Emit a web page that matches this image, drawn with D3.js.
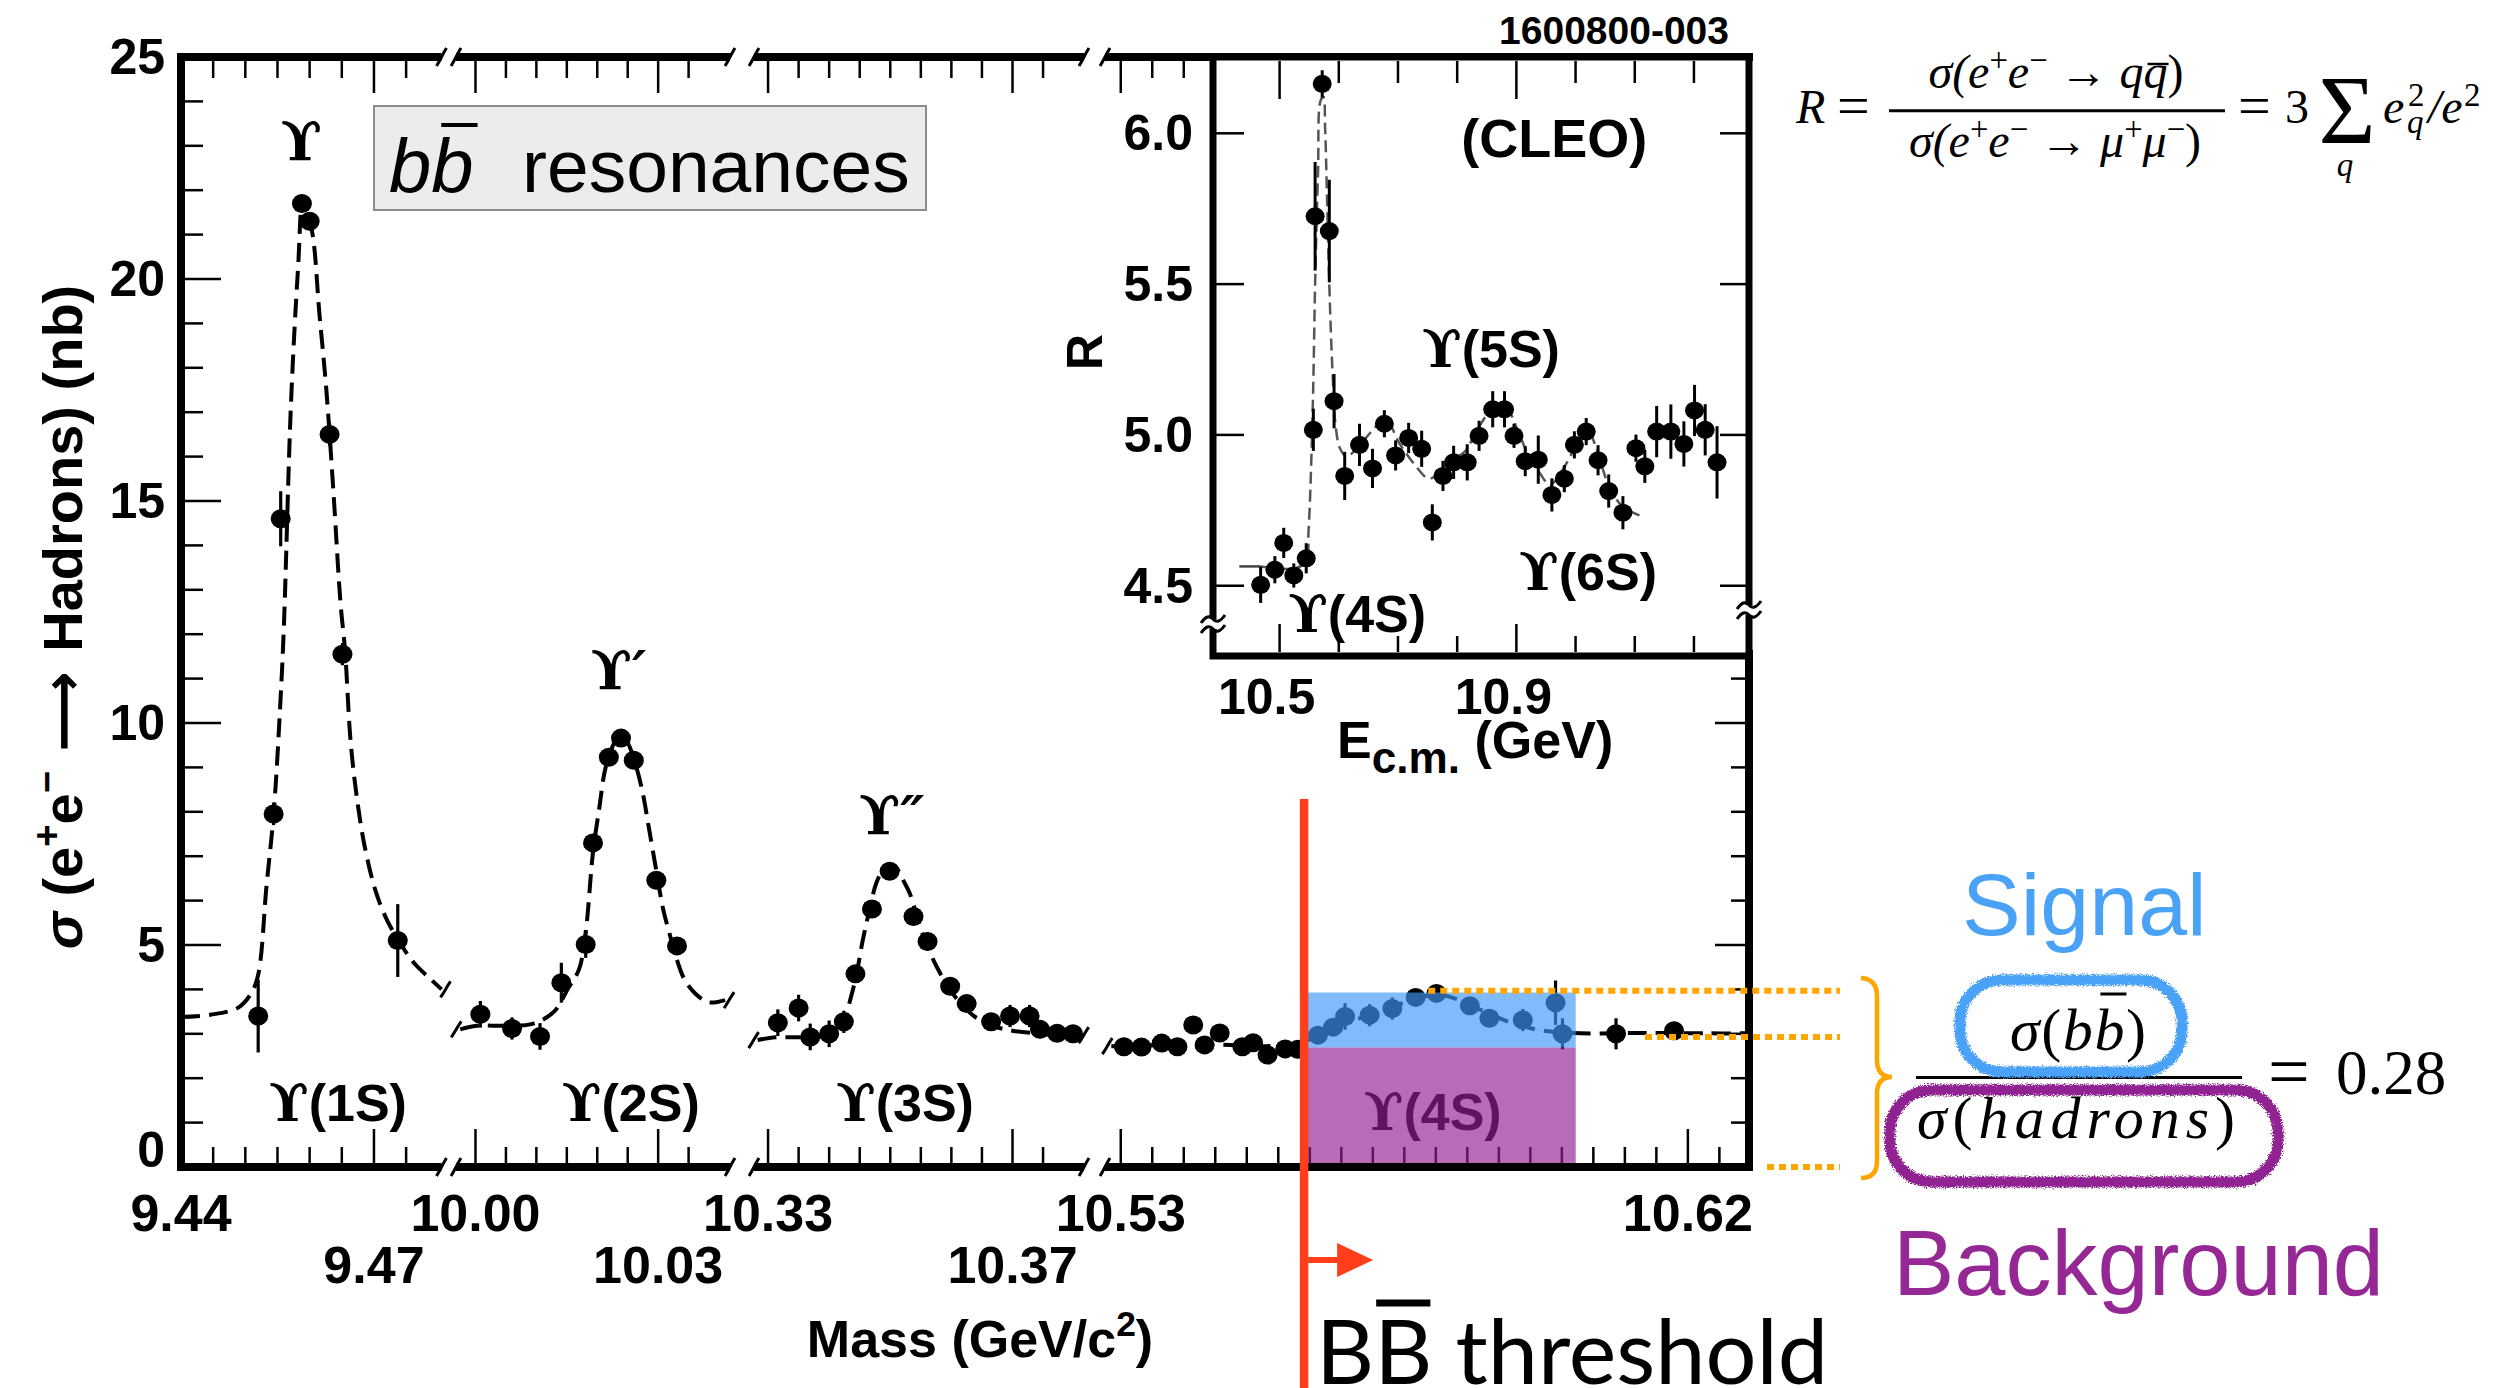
<!DOCTYPE html>
<html>
<head>
<meta charset="utf-8">
<script src="https://cdn.jsdelivr.net/npm/d3@7"></script>
<style>
body { margin: 0; background: #fff; }
svg { display: block; }
</style>
</head>
<body>
<script>
// ---------------- data ----------------
// main scan: sigma(e+e- -> hadrons) in nb versus mass in GeV
var massPts = [9.4520, 9.4544, 9.4555, 9.4588, 9.4600, 9.4631, 9.4651, 9.4737,
  10.0008, 10.0060, 10.0106, 10.0141, 10.0181, 10.0193, 10.0219, 10.0239, 10.0260, 10.0297, 10.0331,
  10.3316, 10.3350, 10.3369, 10.3400, 10.3424, 10.3443, 10.3470, 10.3499, 10.3538, 10.3561, 10.3598,
  10.3625, 10.3665, 10.3696, 10.3728, 10.3745, 10.3773, 10.3799,
  10.5305, 10.5333, 10.5365, 10.5390, 10.5415, 10.5433, 10.5457, 10.5493, 10.5510, 10.5533, 10.5561, 10.5581,
  10.5613, 10.5637, 10.5656, 10.5695, 10.5731, 10.5768, 10.5801, 10.5854, 10.5885, 10.5938, 10.5990,
  10.6001, 10.6086, 10.6178];
var sigmaPts = [3.40, 7.95, 14.6, 21.7, 21.3, 16.5, 11.55, 5.10,
  3.44, 3.12, 2.94, 4.15, 5.01, 7.30, 9.23, 9.66, 9.16, 6.46, 4.98,
  3.25, 3.58, 2.93, 3.00, 3.27, 4.35, 5.81, 6.66, 5.64, 5.08, 4.07,
  3.68, 3.27, 3.40, 3.40, 3.10, 3.01, 3.00,
  2.71, 2.70, 2.79, 2.71, 3.20, 2.75, 3.02, 2.71, 2.80, 2.52, 2.66, 2.65,
  2.97, 3.15, 3.39, 3.42, 3.57, 3.82, 3.91, 3.63, 3.35, 3.31, 3.70,
  3.00, 3.00, 3.07];
var sigmaErr = [0.82, 0.25, 0.62, 0.2, 0.2, 0.25, 0.25, 0.82,
  0.3, 0.25, 0.3, 0.45, 0.3, 0.2, 0.2, 0.15, 0.15, 0.2, 0.2,
  0.3, 0.3, 0.3, 0.3, 0.25, 0.2, 0.2, 0.15, 0.2, 0.2, 0.2,
  0.15, 0.2, 0.25, 0.25, 0.2, 0.15, 0.2,
  0.2, 0.15, 0.15, 0.15, 0.15, 0.15, 0.2, 0.15, 0.15, 0.2, 0.2, 0.2,
  0.2, 0.2, 0.3, 0.25, 0.25, 0.15, 0.15, 0.15, 0.2, 0.25, 0.5,
  0.35, 0.35, 0.2];

// dashed fits, one per axis segment [mass, sigma]
var fit1S = [[9.440,3.38],[9.4446,3.43],[9.4489,3.59],[9.4509,3.91],[9.4520,4.33],[9.4533,6.34],[9.4544,7.95],
  [9.4555,10.6],[9.4560,12.2],[9.4571,17.2],[9.4582,20.25],[9.4590,21.8],[9.4604,21.05],[9.4615,19.25],
  [9.4626,17.5],[9.4637,15.2],[9.4648,12.7],[9.4655,11.64],[9.4664,9.53],[9.4675,8.15],[9.4686,7.19],
  [9.4702,6.24],[9.4719,5.6],[9.4737,5.13],[9.4762,4.6],[9.4789,4.22],[9.4812,4.0]];
var fit2S = [[9.9975,3.10],[10.0002,3.18],[10.0049,3.18],[10.0095,3.23],[10.0129,3.50],[10.0152,4.02],
  [10.0170,4.45],[10.0181,5.29],[10.0193,7.09],[10.0204,8.15],[10.0212,8.89],[10.0222,9.37],[10.0233,9.63],
  [10.0248,9.58],[10.0262,9.10],[10.0274,8.47],[10.0285,7.62],[10.0297,6.67],[10.0308,5.82],[10.0320,5.19],
  [10.0331,4.66],[10.0343,4.23],[10.0360,3.92],[10.0383,3.71],[10.0410,3.76]];
var fit3S = [[10.3283,2.86],[10.3312,2.92],[10.3349,2.92],[10.3378,2.92],[10.3408,3.01],[10.3422,3.16],
  [10.3433,3.69],[10.3444,4.29],[10.3455,5.11],[10.3466,5.79],[10.3477,6.39],[10.3488,6.69],[10.3499,6.80],
  [10.3510,6.73],[10.3521,6.46],[10.3532,6.16],[10.3547,5.49],[10.3561,4.96],[10.3576,4.51],[10.3598,3.99],
  [10.3620,3.61],[10.3642,3.35],[10.3671,3.16],[10.3700,3.07],[10.3737,3.01],[10.3773,2.97],[10.3810,2.97]];
var fit4S = [[10.5285,2.72],[10.5350,2.74],[10.5450,2.76],[10.5530,2.72],[10.5580,2.78],[10.5620,3.00],
  [10.5660,3.25],[10.5710,3.50],[10.5760,3.75],[10.5800,3.88],[10.5840,3.75],[10.5880,3.48],[10.5920,3.25],
  [10.5970,3.07],[10.6030,3.01],[10.6130,3.02],[10.6230,3.01],[10.6295,3.01]];

// inset (CLEO): R versus E_cm in GeV
var cleoE = [10.468, 10.492, 10.507, 10.524, 10.545, 10.557, 10.560, 10.572, 10.584, 10.592,
  10.610, 10.635, 10.657, 10.677, 10.696, 10.718, 10.740, 10.758, 10.776, 10.794,
  10.817, 10.837, 10.860, 10.880, 10.896, 10.915, 10.937, 10.960, 10.981, 10.998,
  11.018, 11.038, 11.056, 11.080, 11.102, 11.117, 11.137, 11.161, 11.183, 11.201, 11.219, 11.239];
var cleoR = [4.503, 4.553, 4.642, 4.534, 4.591, 5.017, 5.725, 6.164, 5.676, 5.112,
  4.864, 4.967, 4.889, 5.037, 4.932, 4.990, 4.954, 4.710, 4.864, 4.909,
  4.909, 4.997, 5.085, 5.085, 4.997, 4.913, 4.918, 4.801, 4.855, 4.967,
  5.011, 4.916, 4.814, 4.742, 4.956, 4.896, 5.011, 5.011, 4.970, 5.081, 5.017, 4.909];
var cleoErr = [0.06, 0.045, 0.05, 0.04, 0.05, 0.07, 0.18, 0.045, 0.17, 0.09,
  0.08, 0.07, 0.065, 0.045, 0.05, 0.05, 0.06, 0.06, 0.05, 0.055,
  0.06, 0.05, 0.06, 0.06, 0.04, 0.05, 0.08, 0.055, 0.045, 0.045,
  0.045, 0.05, 0.055, 0.055, 0.045, 0.055, 0.085, 0.09, 0.075, 0.085, 0.085, 0.12];
var cleoFit = [[10.468,4.564],[10.522,4.557],[10.544,4.578],[10.549,4.686],[10.556,5.092],[10.560,5.498],
  [10.565,5.877],[10.569,6.107],[10.574,6.121],[10.577,6.012],[10.580,5.795],[10.584,5.498],[10.589,5.227],
  [10.595,5.024],[10.602,4.956],[10.613,4.929],[10.631,4.956],[10.655,5.011],[10.679,5.051],[10.703,4.970],
  [10.728,4.902],[10.752,4.855],[10.770,4.875],[10.788,4.916],[10.812,4.943],[10.836,5.024],[10.860,5.085],
  [10.884,5.085],[10.903,5.011],[10.921,4.929],[10.939,4.875],[10.957,4.834],[10.975,4.875],[10.999,4.956],
  [11.020,5.017],[11.035,4.956],[11.053,4.848],[11.077,4.767],[11.108,4.733]];

// tick labels
var yTickLabels = [0, 5, 10, 15, 20, 25];
var xLabelsTop = [9.44, 10.00, 10.33, 10.53, 10.62];
var xLabelsBottom = [9.47, 10.03, 10.37];
var xSegTicks = [[9.44, 9.475], [10.00, 10.035], [10.33, 10.375], [10.53, 10.625]];
var insetXTicks = [10.5, 10.6, 10.7, 10.8, 10.9, 11.0, 11.1, 11.2];
var insetXLabels = [10.5, 10.9];
var insetYLabels = [4.5, 5.0, 5.5, 6.0];

// Upsilon(4S) signal / background region
var bbMass = [10.5597, 10.6022];
var bbSigma = [0, 2.69, 3.93];
var guideSigma = [3.97, 2.93, 0];
var guideStartMass = [10.5788, 10.6132, 10.6297];
var thresholdMass = 10.5591;

// ---------------- drawing ----------------
var SANS = "'Liberation Sans', Arial, Helvetica, sans-serif";
var SERIF = "'Liberation Serif', 'Times New Roman', serif";
var UPS = "'DejaVu Serif', 'Liberation Serif', serif";

var svg = d3.select("body").append("svg")
    .attr("width", 2514)
    .attr("height", 1388);

var defs = svg.append("defs");
var rough = defs.append("filter").attr("id", "rough")
    .attr("x", "-10%").attr("y", "-20%").attr("width", "120%").attr("height", "140%");
rough.append("feTurbulence").attr("type", "fractalNoise").attr("baseFrequency", 0.9)
    .attr("numOctaves", 2).attr("result", "noise");
rough.append("feDisplacementMap").attr("in", "SourceGraphic").attr("in2", "noise")
    .attr("scale", 7).attr("xChannelSelector", "R").attr("yChannelSelector", "G");

// broken x axis: each pair of domain values is one segment
var xMain = d3.scaleLinear()
    .domain([9.44, 9.4805, 9.9968, 10.0418, 10.3277, 10.3817, 10.5275, 10.6297])
    .range([181, 441.5, 456, 730, 754, 1084, 1105, 1749]);
var yMain = d3.scaleLinear().domain([0, 25]).range([1167, 57]);

var xIn = d3.scaleLinear().domain([10.3875, 11.293]).range([1213, 1749]);
var yIn = d3.scaleLinear().domain([4.267, 6.253]).range([656, 57]);

// helper: text made of runs, with sup / sub parts
function rich(parent, x, y, size, runs, opts) {
  opts = opts || {};
  var t = parent.append("text").attr("x", x).attr("y", y)
      .attr("text-anchor", opts.anchor || "start")
      .attr("fill", opts.fill || "#000")
      .style("font-family", opts.family || SANS)
      .style("font-size", size + "px")
      .style("font-weight", opts.weight || "normal")
      .style("font-style", opts.style || "normal");
  if (opts.transform) t.attr("transform", opts.transform);
  var shift = 0;
  runs.forEach(function(r) {
    var s = typeof r === "string" ? {t: r} : r;
    var target = s.sup ? -size * (s.up || 0.4) : s.sub ? size * 0.28 : 0;
    var ts = t.append("tspan").attr("dy", target - shift).text(s.t);
    shift = target;
    if (s.sup || s.sub) ts.style("font-size", (size * (s.scale || 0.68)) + "px");
    if (s.family) ts.style("font-family", s.family);
    if (s.style) ts.style("font-style", s.style);
    if (s.weight) ts.style("font-weight", s.weight);
  });
  return t;
}

// helper: bar over one character of a text
function overline(textSel, idx, y, dx0, dx1, width, color) {
  var e = textSel.node().getExtentOfChar(idx);
  svg.append("line")
      .attr("x1", e.x + dx0).attr("x2", e.x + e.width + dx1)
      .attr("y1", y).attr("y2", y)
      .attr("stroke", color || "#000").attr("stroke-width", width);
}

function breakMark(g, x, y, h) {
  g.append("path")
      .attr("d", "M" + (x - 5) + "," + (y + h) + " C" + (x - 1) + "," + (y + h * 0.3) + " " +
           (x + 1) + "," + (y - h * 0.3) + " " + (x + 5) + "," + (y - h))
      .attr("fill", "none").attr("stroke", "#000").attr("stroke-width", 3);
}

function upsilon(parent, x, y, suffix, size, fill) {
  var t = parent.append("text").attr("x", x).attr("y", y)
      .attr("text-anchor", "middle")
      .attr("fill", fill || "#000")
      .style("font-size", size + "px")
      .style("font-weight", "bold");
  t.append("tspan").style("font-family", UPS).text("\u03D2");
  t.append("tspan").style("font-family", SANS).text(suffix);
  return t;
}

// ---- "bb resonances" box ----
svg.append("rect").attr("x", 374).attr("y", 106).attr("width", 552).attr("height", 104)
    .attr("fill", "#ececec").attr("stroke", "#8c8c8c").attr("stroke-width", 2);
var bbText = svg.append("text").attr("x", 389).attr("y", 192)
    .style("font-family", SANS).style("font-size", "76px").style("font-style", "italic").text("bb");
overline(bbText, 1, 125, 10, 4, 4);
svg.append("text").attr("x", 522).attr("y", 192)
    .style("font-family", SANS).style("font-size", "75px").text("resonances");

// ---- main axes ----
var axes = svg.append("g");
var segEnds = xMain.domain();
for (var s = 0; s < 4; s++) {
  var xa = xMain(segEnds[2 * s]), xb = xMain(segEnds[2 * s + 1]);
  [57, 1167].forEach(function(yy) {
    axes.append("line").attr("x1", s === 0 ? 177 : xa).attr("x2", xb + (s === 3 ? 4 : 0))
        .attr("y1", yy).attr("y2", yy).attr("stroke", "#000").attr("stroke-width", 8);
    if (s > 0) breakMark(axes, xa, yy, 9);
    if (s < 3) breakMark(axes, xb, yy, 9);
  });
}
axes.append("line").attr("x1", 181).attr("x2", 181).attr("y1", 53).attr("y2", 1171)
    .attr("stroke", "#000").attr("stroke-width", 8);
axes.append("line").attr("x1", 1749).attr("x2", 1749).attr("y1", 650).attr("y2", 1171)
    .attr("stroke", "#000").attr("stroke-width", 8);

// x ticks (0.005 GeV apart)
var allLabels = xLabelsTop.concat(xLabelsBottom);
xSegTicks.forEach(function(seg) {
  d3.range(seg[0], seg[1] + 1e-6, 0.005).forEach(function(m) {
    var x = xMain(m);
    var isLong = allLabels.some(function(l) { return Math.abs(l - m) < 1e-6; });
    axes.append("line").attr("x1", x).attr("x2", x)
        .attr("y1", 1163).attr("y2", 1163 - (isLong ? 34 : 16))
        .attr("stroke", "#000").attr("stroke-width", 2.5);
    if (x < 1210) {
      axes.append("line").attr("x1", x).attr("x2", x)
          .attr("y1", 61).attr("y2", 61 + (isLong ? 32 : 17))
          .attr("stroke", "#000").attr("stroke-width", 2.5);
    }
  });
});
xLabelsTop.forEach(function(m) {
  axes.append("text").attr("x", xMain(m)).attr("y", 1231).attr("text-anchor", "middle")
      .style("font-family", SANS).style("font-weight", "bold").style("font-size", "52px")
      .text(d3.format(".2f")(m));
});
xLabelsBottom.forEach(function(m) {
  axes.append("text").attr("x", xMain(m)).attr("y", 1283).attr("text-anchor", "middle")
      .style("font-family", SANS).style("font-weight", "bold").style("font-size", "52px")
      .text(d3.format(".2f")(m));
});

// y ticks (1 nb apart)
d3.range(1, 25).forEach(function(v) {
  var major = v % 5 === 0;
  axes.append("line").attr("x1", 185).attr("x2", 185 + (major ? 36 : 18))
      .attr("y1", yMain(v)).attr("y2", yMain(v)).attr("stroke", "#000").attr("stroke-width", 2.5);
  if (yMain(v) > 660) {
    axes.append("line").attr("x1", 1745).attr("x2", 1745 - (major ? 30 : 14))
        .attr("y1", yMain(v)).attr("y2", yMain(v)).attr("stroke", "#000").attr("stroke-width", 2.5);
  }
});
yTickLabels.forEach(function(v) {
  axes.append("text").attr("x", 165).attr("y", yMain(v) + (v === 0 ? -17 : 0))
      .attr("text-anchor", "end").attr("dominant-baseline", "central")
      .style("font-family", SANS).style("font-weight", "bold").style("font-size", "50px")
      .text(v);
});

// axis titles
rich(svg, 980, 1357, 52, ["Mass (GeV/c", {t: "2", sup: true}, ")"],
    {anchor: "middle", weight: "bold"});
rich(svg, 0, 0, 56,
    [{t: "\u03C3", style: "italic"}, " (e", {t: "+", sup: true}, "e", {t: "\u2212", sup: true},
     {t: " \u27F6 ", family: "'DejaVu Sans', sans-serif"}, "Hadrons) (nb)"],
    {anchor: "middle", weight: "bold", transform: "translate(82,617) rotate(-90)"});

// ---- main data ----
var plot = svg.append("g");
var dashLine = d3.line()
    .x(function(d) { return xMain(d[0]); })
    .y(function(d) { return yMain(d[1]); })
    .curve(d3.curveCatmullRom);
[fit1S, fit2S, fit3S, fit4S].forEach(function(f, i) {
  plot.append("path").attr("d", dashLine(f))
      .attr("fill", "none").attr("stroke", "#000").attr("stroke-width", 4)
      .attr("stroke-dasharray", "19,9");
  var a = f[0], b = f[f.length - 1];
  if (i > 0) breakMark(plot, xMain(a[0]) - 4, yMain(a[1]), 8);
  if (i < 3) breakMark(plot, xMain(b[0]) + 4, yMain(b[1]), 8);
});
massPts.forEach(function(m, i) {
  var x = xMain(m);
  plot.append("line").attr("x1", x).attr("x2", x)
      .attr("y1", yMain(sigmaPts[i] - sigmaErr[i])).attr("y2", yMain(sigmaPts[i] + sigmaErr[i]))
      .attr("stroke", "#000").attr("stroke-width", 3.2);
  plot.append("ellipse").attr("cx", x).attr("cy", yMain(sigmaPts[i]))
      .attr("rx", 10).attr("ry", 9.5).attr("fill", "#000");
});

// resonance labels
upsilon(plot, xMain(9.4587), yMain(22.66), "", 54);
var up2 = plot.append("text").attr("x", xMain(10.0219)).attr("y", yMain(10.74))
    .attr("text-anchor", "start").attr("dx", -18)
    .style("font-size", "54px").style("font-weight", "bold");
up2.append("tspan").style("font-family", UPS).text("\u03D2");
up2.append("tspan").style("font-family", UPS).style("font-style", "italic").text("\u2032");
var up3 = plot.append("text").attr("x", xMain(10.3483)).attr("y", yMain(7.48))
    .attr("text-anchor", "start").attr("dx", -21)
    .style("font-size", "54px").style("font-weight", "bold");
up3.append("tspan").style("font-family", UPS).text("\u03D2");
up3.append("tspan").style("font-family", UPS).style("font-style", "italic").text("\u2033");
upsilon(plot, xMain(9.4644), yMain(1.04), "(1S)", 52);
upsilon(plot, xMain(10.0255), yMain(1.04), "(2S)", 52);
upsilon(plot, xMain(10.3524), yMain(1.04), "(3S)", 52);
upsilon(plot, xMain(10.5795), yMain(0.83), "(4S)", 52);

// ---- inset (CLEO) ----
var inset = svg.append("g");
inset.append("rect").attr("x", 1213).attr("y", 57).attr("width", 536).attr("height", 599)
    .attr("fill", "#fff").attr("stroke", "#000").attr("stroke-width", 7);
insetXTicks.forEach(function(e) {
  var x = xIn(e), lab = insetXLabels.indexOf(e) >= 0;
  inset.append("line").attr("x1", x).attr("x2", x).attr("y1", 652).attr("y2", 652 - (lab ? 28 : 16))
      .attr("stroke", "#000").attr("stroke-width", 2.5);
  inset.append("line").attr("x1", x).attr("x2", x).attr("y1", 61).attr("y2", 61 + (lab ? 38 : 22))
      .attr("stroke", "#000").attr("stroke-width", 2.5);
});
insetXLabels.forEach(function(e) {
  inset.append("text").attr("x", xIn(e) - 13).attr("y", 714).attr("text-anchor", "middle")
      .style("font-family", SANS).style("font-weight", "bold").style("font-size", "50px")
      .text(d3.format(".1f")(e));
});
insetYLabels.forEach(function(r) {
  var y = yIn(r);
  inset.append("line").attr("x1", 1216).attr("x2", 1244).attr("y1", y).attr("y2", y)
      .attr("stroke", "#000").attr("stroke-width", 2.5);
  inset.append("line").attr("x1", 1746).attr("x2", 1720).attr("y1", y).attr("y2", y)
      .attr("stroke", "#000").attr("stroke-width", 2.5);
  inset.append("text").attr("x", 1193).attr("y", y).attr("text-anchor", "end")
      .attr("dominant-baseline", "central")
      .style("font-family", SANS).style("font-weight", "bold").style("font-size", "50px")
      .text(d3.format(".1f")(r));
});
// axis breaks on the inset sides
[[1213, 624], [1749, 610]].forEach(function(p) {
  inset.append("rect").attr("x", p[0] - 6).attr("y", p[1] - 5).attr("width", 12).attr("height", 10)
      .attr("fill", "#fff");
  [-5, 5].forEach(function(o) {
    inset.append("path")
        .attr("d", "M" + (p[0] - 12) + "," + (p[1] + o + 4) + " Q" + (p[0] - 5) + "," + (p[1] + o - 6) +
             " " + p[0] + "," + (p[1] + o) + " Q" + (p[0] + 5) + "," + (p[1] + o + 6) + " " +
             (p[0] + 12) + "," + (p[1] + o - 4))
        .attr("fill", "none").attr("stroke", "#000").attr("stroke-width", 3);
  });
});
inset.append("text").attr("transform", "translate(1102,352) rotate(-90)").attr("text-anchor", "middle")
    .style("font-family", SANS).style("font-weight", "bold").style("font-size", "50px").text("R");
rich(inset, 1337, 758, 52, ["E", {t: "c.m.", sub: true, scale: 0.85}, {t: " (GeV)"}],
    {weight: "bold"});
inset.append("text").attr("x", 1729).attr("y", 44).attr("text-anchor", "end")
    .style("font-family", SANS).style("font-weight", "bold").style("font-size", "39px")
    .text("1600800-003");
inset.append("text").attr("x", xIn(10.964)).attr("y", yIn(5.92)).attr("text-anchor", "middle")
    .style("font-family", SANS).style("font-weight", "bold").style("font-size", "54px")
    .text("(CLEO)");

var inLine = d3.line()
    .x(function(d) { return xIn(d[0]); })
    .y(function(d) { return yIn(d[1]); })
    .curve(d3.curveCatmullRom);
inset.append("path").attr("d", inLine(cleoFit))
    .attr("fill", "none").attr("stroke", "#555").attr("stroke-width", 2.5)
    .attr("stroke-dasharray", "12,6");
inset.append("path")
    .attr("d", "M" + xIn(10.432) + "," + yIn(4.564) + "H" + xIn(10.468))
    .attr("stroke", "#444").attr("stroke-width", 2.5);
cleoE.forEach(function(e, i) {
  var x = xIn(e);
  inset.append("line").attr("x1", x).attr("x2", x)
      .attr("y1", yIn(cleoR[i] - cleoErr[i])).attr("y2", yIn(cleoR[i] + cleoErr[i]))
      .attr("stroke", "#000").attr("stroke-width", 3);
  inset.append("ellipse").attr("cx", x).attr("cy", yIn(cleoR[i]))
      .attr("rx", 9.5).attr("ry", 9).attr("fill", "#000");
});
upsilon(inset, xIn(10.857), yIn(5.225), "(5S)", 52);
upsilon(inset, xIn(11.021), yIn(4.486), "(6S)", 52);
upsilon(inset, xIn(10.631), yIn(4.347), "(4S)", 52);

// ---- signal / background shading ----
var shade = svg.append("g");
shade.append("rect").attr("x", xMain(bbMass[0])).attr("width", xMain(bbMass[1]) - xMain(bbMass[0]))
    .attr("y", yMain(bbSigma[2])).attr("height", yMain(bbSigma[1]) - yMain(bbSigma[2]))
    .attr("fill", "rgb(65,152,250)").attr("fill-opacity", 0.66);
shade.append("rect").attr("x", xMain(bbMass[0])).attr("width", xMain(bbMass[1]) - xMain(bbMass[0]))
    .attr("y", yMain(bbSigma[1])).attr("height", yMain(bbSigma[0]) - yMain(bbSigma[1]) - 4)
    .attr("fill", "rgb(145,30,145)").attr("fill-opacity", 0.655);

// ---- B Bbar threshold ----
var xt = xMain(thresholdMass);
svg.append("line").attr("x1", xt).attr("x2", xt).attr("y1", 799).attr("y2", 1388)
    .attr("stroke", "#ff3f1c").attr("stroke-width", 8.5);
svg.append("line").attr("x1", xt + 4).attr("x2", xt + 38).attr("y1", 1260).attr("y2", 1260)
    .attr("stroke", "#ff3f1c").attr("stroke-width", 6);
svg.append("path")
    .attr("d", "M" + (xt + 33) + ",1243 L" + (xt + 69) + ",1260 L" + (xt + 33) + ",1277 Z")
    .attr("fill", "#ff3f1c");
var thr = svg.append("text").attr("x", 1316).attr("y", 1384)
    .style("font-family", "Lato, 'Open Sans', sans-serif").style("font-size", "90px")
    .text("BB threshold");
overline(thr, 1, 1303, 2, -2, 7);

// ---- orange guides and brace ----
var guides = svg.append("g").attr("stroke", "#ffa500").attr("fill", "none");
guideSigma.forEach(function(v, i) {
  guides.append("line").attr("x1", xMain(guideStartMass[i]) + (i === 2 ? 18 : 0)).attr("x2", 1840)
      .attr("y1", yMain(v)).attr("y2", yMain(v))
      .attr("stroke-width", 6).attr("stroke-dasharray", "7,5");
});
guides.append("path")
    .attr("d", "M1861,978 Q1877,979 1877,996 L1877,1060 Q1877,1077 1892,1077 " +
               "Q1877,1077 1877,1094 L1877,1161 Q1877,1178 1861,1178")
    .attr("stroke-width", 4.5);

// ---- right-hand annotations ----
var ann = svg.append("g");
ann.append("text").attr("x", 1962).attr("y", 935)
    .style("font-family", SANS).style("font-size", "88px").attr("fill", "#4aa2f7").text("Signal");
ann.append("text").attr("x", 1893).attr("y", 1295)
    .style("font-family", SANS).style("font-size", "92px").attr("fill", "#952895").text("Background");

var num = ann.append("text").attr("x", 2010).attr("y", 1050)
    .attr("textLength", 136).attr("lengthAdjust", "spacing")
    .style("font-family", SERIF).style("font-size", "60px");
num.append("tspan").style("font-style", "italic").text("\u03C3");
num.append("tspan").text("(");
num.append("tspan").style("font-style", "italic").text("bb");
num.append("tspan").text(")");
overline(num, 3, 994, 6, 2, 3);
ann.append("line").attr("x1", 1916).attr("x2", 2242).attr("y1", 1077.5).attr("y2", 1077.5)
    .attr("stroke", "#000").attr("stroke-width", 3);
var den = ann.append("text").attr("x", 1917).attr("y", 1138)
    .attr("textLength", 318).attr("lengthAdjust", "spacing")
    .style("font-family", SERIF).style("font-size", "60px");
den.append("tspan").style("font-style", "italic").text("\u03C3");
den.append("tspan").text("(");
den.append("tspan").style("font-style", "italic").text("hadrons");
den.append("tspan").text(")");
ann.append("text").attr("x", 2268).attr("y", 1096)
    .style("font-family", SERIF).style("font-size", "74px").text("=");
ann.append("text").attr("x", 2336).attr("y", 1094)
    .style("font-family", SERIF).style("font-size", "63px").text("0.28");

// sketchy rings
ann.append("rect").attr("x", 1960).attr("y", 980).attr("width", 222).attr("height", 92)
    .attr("rx", 42).attr("fill", "none").attr("stroke", "#4aa2f7").attr("stroke-width", 11)
    .attr("filter", "url(#rough)");
ann.append("rect").attr("x", 1890).attr("y", 1090).attr("width", 388).attr("height", 92)
    .attr("rx", 42).attr("fill", "none").attr("stroke", "#912491").attr("stroke-width", 11)
    .attr("filter", "url(#rough)");

// R formula
var F = 48;
ann.append("text").attr("x", 1796).attr("y", 123)
    .style("font-family", SERIF).style("font-size", F + "px").style("font-style", "italic").text("R");
ann.append("text").attr("x", 1837).attr("y", 125)
    .style("font-family", SERIF).style("font-size", "58px").text("=");
var numR = rich(ann, 2056, 88, F,
    [{t: "\u03C3(", style: "italic"}, {t: "e", style: "italic"}, {t: "+", sup: true, up: 0.36},
     {t: "e", style: "italic"}, {t: "\u2212", sup: true, up: 0.36}, " \u2192 ",
     {t: "qq", style: "italic"}, ")"],
    {anchor: "middle", family: SERIF});
overline(numR, 10, 64, 4, 1, 2.5);
ann.append("line").attr("x1", 1889).attr("x2", 2225).attr("y1", 110.7).attr("y2", 110.7)
    .attr("stroke", "#000").attr("stroke-width", 3);
rich(ann, 2055, 157, F,
    [{t: "\u03C3(", style: "italic"}, {t: "e", style: "italic"}, {t: "+", sup: true, up: 0.36},
     {t: "e", style: "italic"}, {t: "\u2212", sup: true, up: 0.36}, " \u2192 ",
     {t: "\u03BC", style: "italic"}, {t: "+", sup: true, up: 0.36},
     {t: "\u03BC", style: "italic"}, {t: "\u2212", sup: true, up: 0.36}, ")"],
    {anchor: "middle", family: SERIF});
ann.append("text").attr("x", 2238).attr("y", 125)
    .style("font-family", SERIF).style("font-size", "58px").text("=");
ann.append("text").attr("x", 2285).attr("y", 123)
    .style("font-family", SERIF).style("font-size", F + "px").text("3");
ann.append("text").attr("x", 2347).attr("y", 143).attr("text-anchor", "middle")
    .style("font-family", SERIF).style("font-size", "98px").text("\u03A3");
ann.append("text").attr("x", 2345).attr("y", 176).attr("text-anchor", "middle")
    .style("font-family", SERIF).style("font-size", "33px").style("font-style", "italic").text("q");
ann.append("text").attr("x", 2383).attr("y", 123)
    .style("font-family", SERIF).style("font-size", F + "px").style("font-style", "italic").text("e");
ann.append("text").attr("x", 2407).attr("y", 133)
    .style("font-family", SERIF).style("font-size", "33px").style("font-style", "italic").text("q");
ann.append("text").attr("x", 2408).attr("y", 106)
    .style("font-family", SERIF).style("font-size", "33px").text("2");
ann.append("text").attr("x", 2428).attr("y", 123)
    .style("font-family", SERIF).style("font-size", F + "px").style("font-style", "italic").text("/e");
ann.append("text").attr("x", 2464).attr("y", 106)
    .style("font-family", SERIF).style("font-size", "33px").text("2");
</script>
</body>
</html>
